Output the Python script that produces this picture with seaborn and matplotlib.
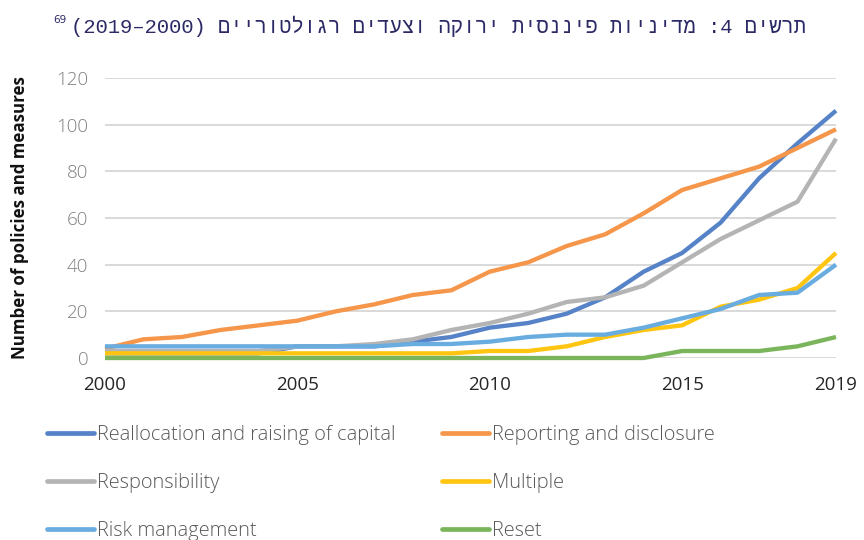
import matplotlib
matplotlib.use("Agg")
import matplotlib.pyplot as plt
from matplotlib import font_manager as fm
from matplotlib.lines import Line2D
import numpy as np
import pandas as pd
import seaborn as sns

# ---- data ----
years = list(range(2000, 2020))
reallocation = [2, 2, 2, 2, 2, 5, 5, 5, 7, 9, 13, 15, 19, 26, 37, 45, 58, 77, 92, 106]
reporting = [4, 8, 9, 12, 14, 16, 20, 23, 27, 29, 37, 41, 48, 53, 62, 72, 77, 82, 90, 98]
responsibility = [3, 3, 3, 3, 3, 5, 5, 6, 8, 12, 15, 19, 24, 26, 31, 41, 51, 59, 67, 94]
multiple = [2, 2, 2, 2, 2, 2, 2, 2, 2, 2, 3, 3, 5, 9, 12, 14, 22, 25, 30, 45]
risk = [5, 5, 5, 5, 5, 5, 5, 5, 6, 6, 7, 9, 10, 10, 13, 17, 21, 27, 28, 40]
reset = [0, 0, 0, 0, 0, 0, 0, 0, 0, 0, 0, 0, 0, 0, 0, 3, 3, 3, 5, 9]

series_names = ["Reallocation and raising of capital", "Reporting and disclosure",
                "Responsibility", "Multiple", "Risk management", "Reset"]
series_values = [reallocation, reporting, responsibility, multiple, risk, reset]
colors = ["#5683C8", "#F5964A", "#B4B4B4", "#FFC510", "#69ACDF", "#7AB55C"]

x_ticks = [2000, 2005, 2010, 2015, 2019]
y_ticks = [0, 20, 40, 60, 80, 100, 120]
y_label = "Number of policies and measures"
title_heb = "תרשים 4: מדיניות פיננסית ירוקה וצעדים רגולטוריים"
title_main = "(2019–2000) " + title_heb[::-1]   # visual (left-to-right) order
title_note = "69"

# ---- build ----
df = pd.DataFrame({
    "year": years * len(series_names),
    "value": [v for s in series_values for v in s],
    "series": [n for n in series_names for _ in years],
})

sns.set_theme(style="white")
plt.rcParams["font.family"] = ["Open Sans", "DejaVu Sans"]

light = fm.FontProperties(family="Open Sans", weight="light")

fig = plt.figure(figsize=(8.64, 5.4), dpi=100)
W, H = 864, 540
ax = fig.add_axes([105 / W, 1 - 358 / H, (836 - 105) / W, (358 - 78) / H])

sns.lineplot(data=df, x="year", y="value", hue="series", hue_order=series_names,
             palette=colors, linewidth=3.1, legend=False, ax=ax)
for ln in ax.lines:
    ln.set_clip_on(False)
    ln.set_solid_capstyle("butt")
    ln.set_solid_joinstyle("round")

ax.set_xlim(2000, 2019)
ax.set_ylim(0, 120)
ax.set_xticks(x_ticks)
ax.set_yticks(y_ticks)
ax.set_xlabel("")
ax.set_ylabel("")
ax.yaxis.grid(True, color="#D9D9D9", linewidth=1.4)
ax.xaxis.grid(False)
ax.set_axisbelow(True)
for s in ax.spines.values():
    s.set_visible(False)
ax.tick_params(axis="y", length=0, labelsize=13.5, labelcolor="#808080", pad=12)
ax.tick_params(axis="x", length=0, labelsize=13.5, labelcolor="#262626", pad=13)
for t in ax.get_yticklabels():
    t.set_fontproperties(light)
    t.set_fontsize(13.5)

fig.text(20 / W, 1 - 218 / H, y_label, rotation=90, fontweight="bold", fontsize=12.2,
         ha="center", va="center", color="#111111")

# title (Hebrew, drawn in visual order) + superscript note
fig.text(71 / W, 1 - 26 / H, title_main, ha="left", va="center", fontsize=14.8,
         color="#2B2A66", family=["Liberation Mono", "DejaVu Sans Mono", "DejaVu Sans"])
fig.text(67 / W, 1 - 20 / H, title_note, ha="right", va="center", fontsize=7.5,
         color="#2B2A66", family=["DejaVu Sans"])

# legend: one entry per slot, laid out in 3 rows x 2 columns
handles = [Line2D([0], [0], color=c, lw=3.4) for c in colors]
leg_size = 14.4
em = leg_size * 100 / 72.0
leg_prop = fm.FontProperties(family="Open Sans", weight="light", size=leg_size)
col_x = [47, 442]
row_y = [435, 483, 531]
for k, name in enumerate(series_names):
    r, c = divmod(k, 2)
    fig.legend(handles=[handles[k]], labels=[name],
               loc="center left", bbox_to_anchor=(col_x[c] / W, 1 - row_y[r] / H),
               frameon=False, handlelength=47 / em, handletextpad=3 / em,
               borderpad=0, borderaxespad=0, prop=leg_prop, labelcolor="#595959")

fig.savefig("out.png", dpi=100)
